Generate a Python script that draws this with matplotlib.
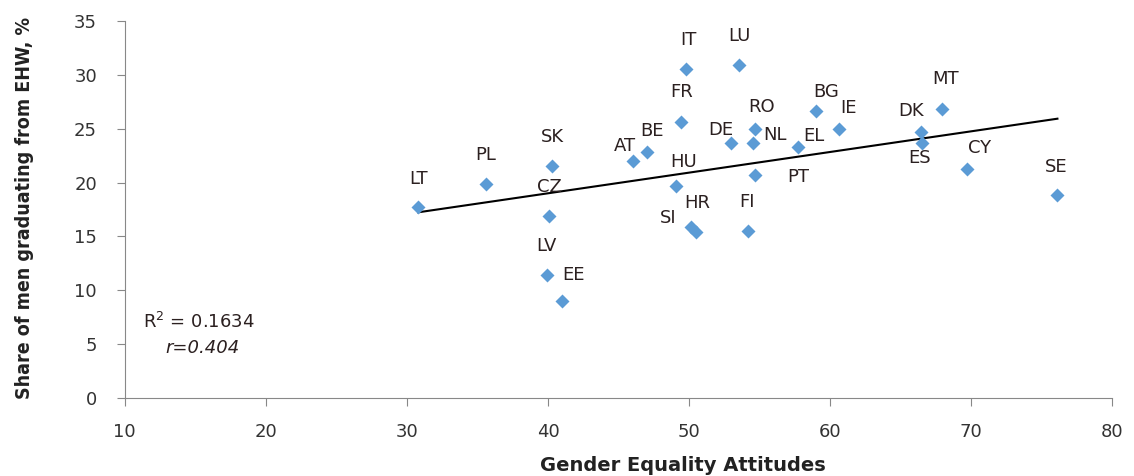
import numpy as np
import matplotlib.pyplot as plt

# data
countries = ['LT', 'PL', 'SK', 'CZ', 'LV', 'EE', 'AT', 'BE', 'FR', 'IT', 'LU', 'HU', 'SI', 'HR',
             'FI', 'DE', 'RO', 'NL', 'PT', 'EL', 'BG', 'IE', 'DK', 'ES', 'MT', 'CY', 'SE']
attitudes = [30.8, 35.6, 40.3, 40.1, 39.9, 41.0, 46.0, 47.0, 49.4, 49.8, 53.5, 49.1, 50.1, 50.5,
             54.2, 53.0, 54.7, 54.5, 54.7, 57.7, 59.0, 60.6, 66.4, 66.5, 67.9, 69.7, 76.1]
share_men = [17.7, 19.9, 21.5, 16.85, 11.4, 9.0, 22.0, 22.8, 25.6, 30.5, 30.9, 19.7, 15.9, 15.4,
             15.5, 23.7, 24.95, 23.7, 20.7, 23.3, 26.6, 24.95, 24.7, 23.7, 26.8, 21.3, 18.8]

# label offsets in pixels (dx, dy)
offsets = {'LT': (0, 28), 'PL': (0, 29), 'SK': (0, 29), 'CZ': (0, 29), 'LV': (0, 29),
           'EE': (11, 26), 'AT': (-8, 15), 'BE': (5, 21), 'FR': (1, 30), 'IT': (2, 29),
           'LU': (1, 29), 'HU': (7, 24), 'SI': (-22, 9), 'HR': (1, 29), 'FI': (-1, 29),
           'DE': (-11, 13), 'RO': (6, 22), 'NL': (22, 8), 'PT': (43, -2), 'EL': (16, 11),
           'BG': (10, 19), 'IE': (10, 21), 'DK': (-9, 21), 'ES': (-2, -15), 'MT': (4, 30),
           'CY': (12, 21), 'SE': (-1, 28)}

x = np.array(attitudes)
y = np.array(share_men)

fig = plt.figure(figsize=(11.34, 4.76), dpi=100)
ax = fig.add_axes([0.110, 0.164, 0.871, 0.792])

ax.plot(x, y, 'D', color='#5B9BD5', ms=7, mec='none', zorder=3)

k, b = np.polyfit(x, y, 1)
xs = np.array([x.min(), x.max()])
ax.plot(xs, k * xs + b, color='black', lw=1.5, zorder=2)

for c, xi, yi in zip(countries, x, y):
    ax.annotate(c, (xi, yi), xytext=offsets[c], textcoords='offset pixels',
                ha='center', va='center', fontsize=13, color='#2b2020')

ax.text(11.3, 7.1, 'R$^2$ = 0.1634', fontsize=13, color='#2b2020', va='center', ha='left')
ax.text(12.9, 4.65, 'r=0.404', fontsize=13, color='#2b2020', va='center', ha='left',
        style='italic')

ax.set_xlim(10, 80)
ax.set_ylim(0, 35)
ax.set_xticks(range(10, 81, 10))
ax.set_yticks(range(0, 36, 5))
for s in ['top', 'right']:
    ax.spines[s].set_visible(False)
for s in ['left', 'bottom']:
    ax.spines[s].set_color('#888888')
ax.tick_params(axis='y', length=6, color='#888888', labelsize=13, labelcolor='#333333', pad=14)
ax.tick_params(axis='x', length=6, color='#888888', labelsize=13, labelcolor='#333333', pad=12)

ax.set_xlabel('Gender Equality Attitudes', fontsize=14, fontweight='bold', color='#222222')
ax.xaxis.set_label_coords(0.565, -0.155)
ax.set_ylabel('Share of men graduating from EHW, %', fontsize=14, fontweight='bold',
              color='#222222', fontstretch='condensed')
ax.yaxis.set_label_coords(-0.092, 0.505)

fig.savefig('out.png', dpi=100)
